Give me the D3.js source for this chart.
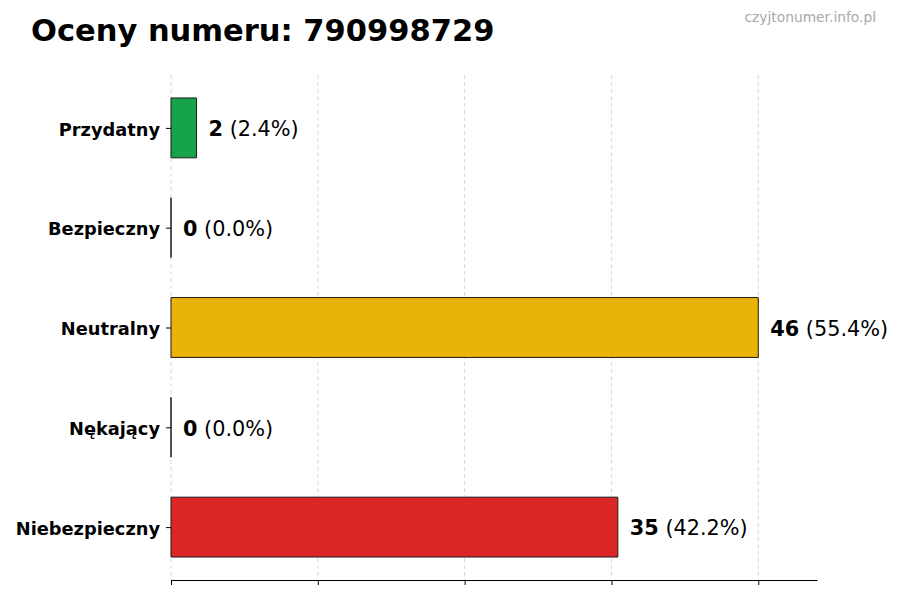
<!DOCTYPE html>
<html>
<head>
<meta charset="utf-8">
<script src="https://cdn.jsdelivr.net/npm/d3@7"></script>
<style>
  body { margin: 0; background: #fff; }
  text { font-family: "DejaVu Sans", sans-serif; }
</style>
</head>
<body>
<div id="chart"></div>
<script>
const title = "Oceny numeru: 790998729";
const watermark = "czyjtonumer.info.pl";

const categories = ["Przydatny", "Bezpieczny", "Neutralny", "Nękający", "Niebezpieczny"];
const counts = [2, 0, 46, 0, 35];
const colors = ["#16a34a", "#9ca3af", "#eab308", "#f97316", "#dc2626"];

const total = d3.sum(counts);
const maxCount = d3.max(counts);
const tickValues = [0, 0.25, 0.5, 0.75, 1].map((f) => f * maxCount);

const width = 900;
const height = 600;
const plotLeft = 171;
const plotRight = 817;
const plotTop = 75;
const plotBottom = 580;

const data = categories.map((name, i) => ({
  name: name,
  value: counts[i],
  color: colors[i],
}));

var svg = d3
  .select("#chart")
  .append("svg")
  .attr("width", width)
  .attr("height", height);

var x = d3.scaleLinear().domain([0, maxCount * 1.1]).range([plotLeft, plotRight]);

// matplotlib-style barh: categories at integer positions, bars 0.6 thick
var yPos = d3.scaleLinear().domain([-0.53, 4.53]).range([plotTop, plotBottom]);
const barHalf = 0.3;

// grid
svg
  .append("g")
  .selectAll("line")
  .data(tickValues)
  .enter()
  .append("line")
  .attr("x1", (d) => x(d))
  .attr("x2", (d) => x(d))
  .attr("y1", plotTop)
  .attr("y2", plotBottom)
  .attr("stroke", "#cfcfcf")
  .attr("stroke-width", 0.8)
  .attr("stroke-dasharray", "4,3");

// bars (paths so zero-width bars still show their edge)
svg
  .append("g")
  .selectAll("path")
  .data(data)
  .enter()
  .append("path")
  .attr("d", (d, i) => {
    const y0 = yPos(i - barHalf);
    const y1 = yPos(i + barHalf);
    const x0 = x(0);
    const x1 = x(d.value);
    return `M${x0},${y0}H${x1}V${y1}H${x0}Z`;
  })
  .attr("fill", (d) => d.color)
  .attr("stroke", "#1a1a1a")
  .attr("stroke-width", 1);

// value labels
const labels = svg
  .append("g")
  .selectAll("text")
  .data(data)
  .enter()
  .append("text")
  .attr("x", (d) => x(d.value) + 12)
  .attr("y", (d, i) => yPos(i))
  .attr("dy", "0.4em")
  .attr("font-size", "20.8px")
  .attr("fill", "#000");
labels
  .append("tspan")
  .attr("font-weight", "bold")
  .text((d) => d.value);
labels
  .append("tspan")
  .text((d) => ` (${((d.value / total) * 100).toFixed(1)}%)`);

// y axis: ticks and labels, no spine
var yAxis = svg
  .append("g")
  .attr("transform", `translate(${plotLeft},0)`)
  .call(
    d3
      .axisLeft(yPos)
      .tickValues(d3.range(categories.length))
      .tickSize(5)
      .tickPadding(6)
      .tickFormat((i) => categories[i])
  );
yAxis.select(".domain").remove();
yAxis
  .selectAll("text")
  .attr("font-family", "DejaVu Sans, sans-serif")
  .attr("font-size", "17.8px")
  .attr("font-weight", "bold")
  .attr("dy", "0.4em")
  .attr("fill", "#000");
yAxis.selectAll("line").attr("stroke", "#000");

// x axis: bottom spine with ticks, no labels
var xAxis = svg
  .append("g")
  .attr("transform", `translate(0,${plotBottom})`)
  .call(d3.axisBottom(x).tickValues(tickValues).tickSize(5).tickSizeOuter(0).tickFormat(""));
xAxis.select(".domain").attr("stroke", "#000").attr("stroke-width", 1.2);
xAxis.selectAll("line").attr("stroke", "#000");

// title
svg
  .append("text")
  .attr("x", 31)
  .attr("y", 41)
  .attr("font-size", "30.5px")
  .attr("font-weight", "bold")
  .attr("fill", "#000")
  .text(title);

// watermark
svg
  .append("text")
  .attr("x", 876)
  .attr("y", 22)
  .attr("text-anchor", "end")
  .attr("font-size", "13.8px")
  .attr("fill", "#a8a8a8")
  .text(watermark);
</script>
</body>
</html>
